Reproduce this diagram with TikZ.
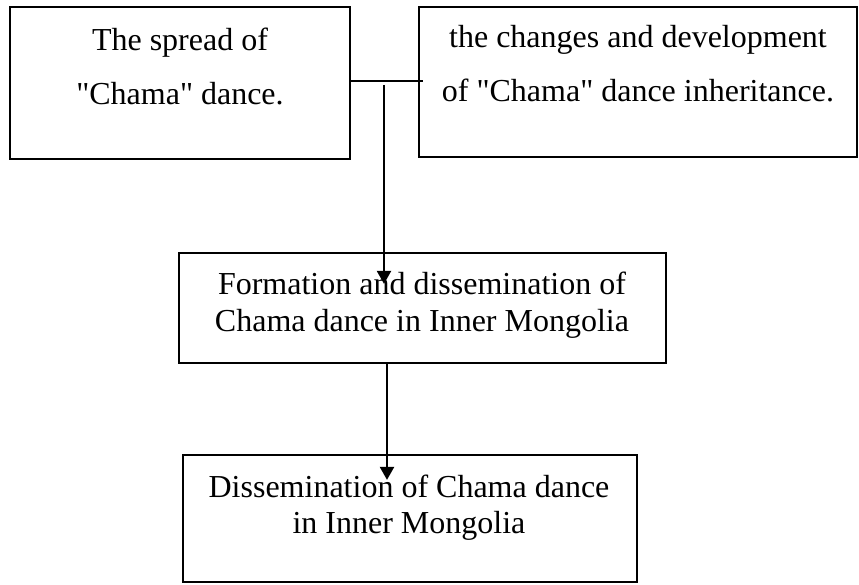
\documentclass[tikz,border=0pt]{standalone}
\usepackage{fontspec}
\setmainfont{Liberation Serif}
\usetikzlibrary{arrows.meta}
\newcommand{\dq}{\textquotedbl}
\begin{document}
\begin{tikzpicture}[x=1pt,y=1pt,
  box/.style={draw=black, line width=2.2pt, rectangle, inner sep=0pt},
  lbl/.style={align=center, anchor=north, inner sep=0pt, font=\fontsize{32}{54}\selectfont},
  ln/.style={line width=2.2pt},
  arr/.style={line width=2.2pt, -{Triangle[length=13pt,width=14pt]}}]
\fill[white] (0,0) rectangle (859,584);
\useasboundingbox (0,0) rectangle (859,584);
% boxes
\node[box, minimum width=340, minimum height=152] (b1) at (180,501) {};
\node[box, minimum width=438, minimum height=150] (b2) at (638,502) {};
\node[box, minimum width=487, minimum height=110] (b3) at (422.5,276) {};
\node[box, minimum width=454, minimum height=127] (b4) at (410,65.5) {};
% texts
\node[lbl] (t1) at (180,556) {The spread of\\\dq Chama\dq{} dance.};
\node[lbl] (t2) at (638,559) {the changes and development\\of \dq Chama\dq{} dance inheritance.};
\node[lbl, font=\fontsize{32}{37}\selectfont] (t3) at (422,312) {Formation and dissemination of\\Chama dance in Inner Mongolia};
\node[lbl, font=\fontsize{32}{36}\selectfont] (t4) at (409,109) {Dissemination of Chama dance\\in Inner Mongolia};
% connectors
\coordinate (hend) at (423,503);
\draw[ln] (b1.east |- hend) -- (hend);
\coordinate (j1) at (384,499);
\draw[arr] (j1) -- ([yshift=-32pt]b3.north -| j1);
\draw[arr] ([xshift=-35.5pt]b3.south) -- ([xshift=-23pt,yshift=-26pt]b4.north);
\end{tikzpicture}
\end{document}
